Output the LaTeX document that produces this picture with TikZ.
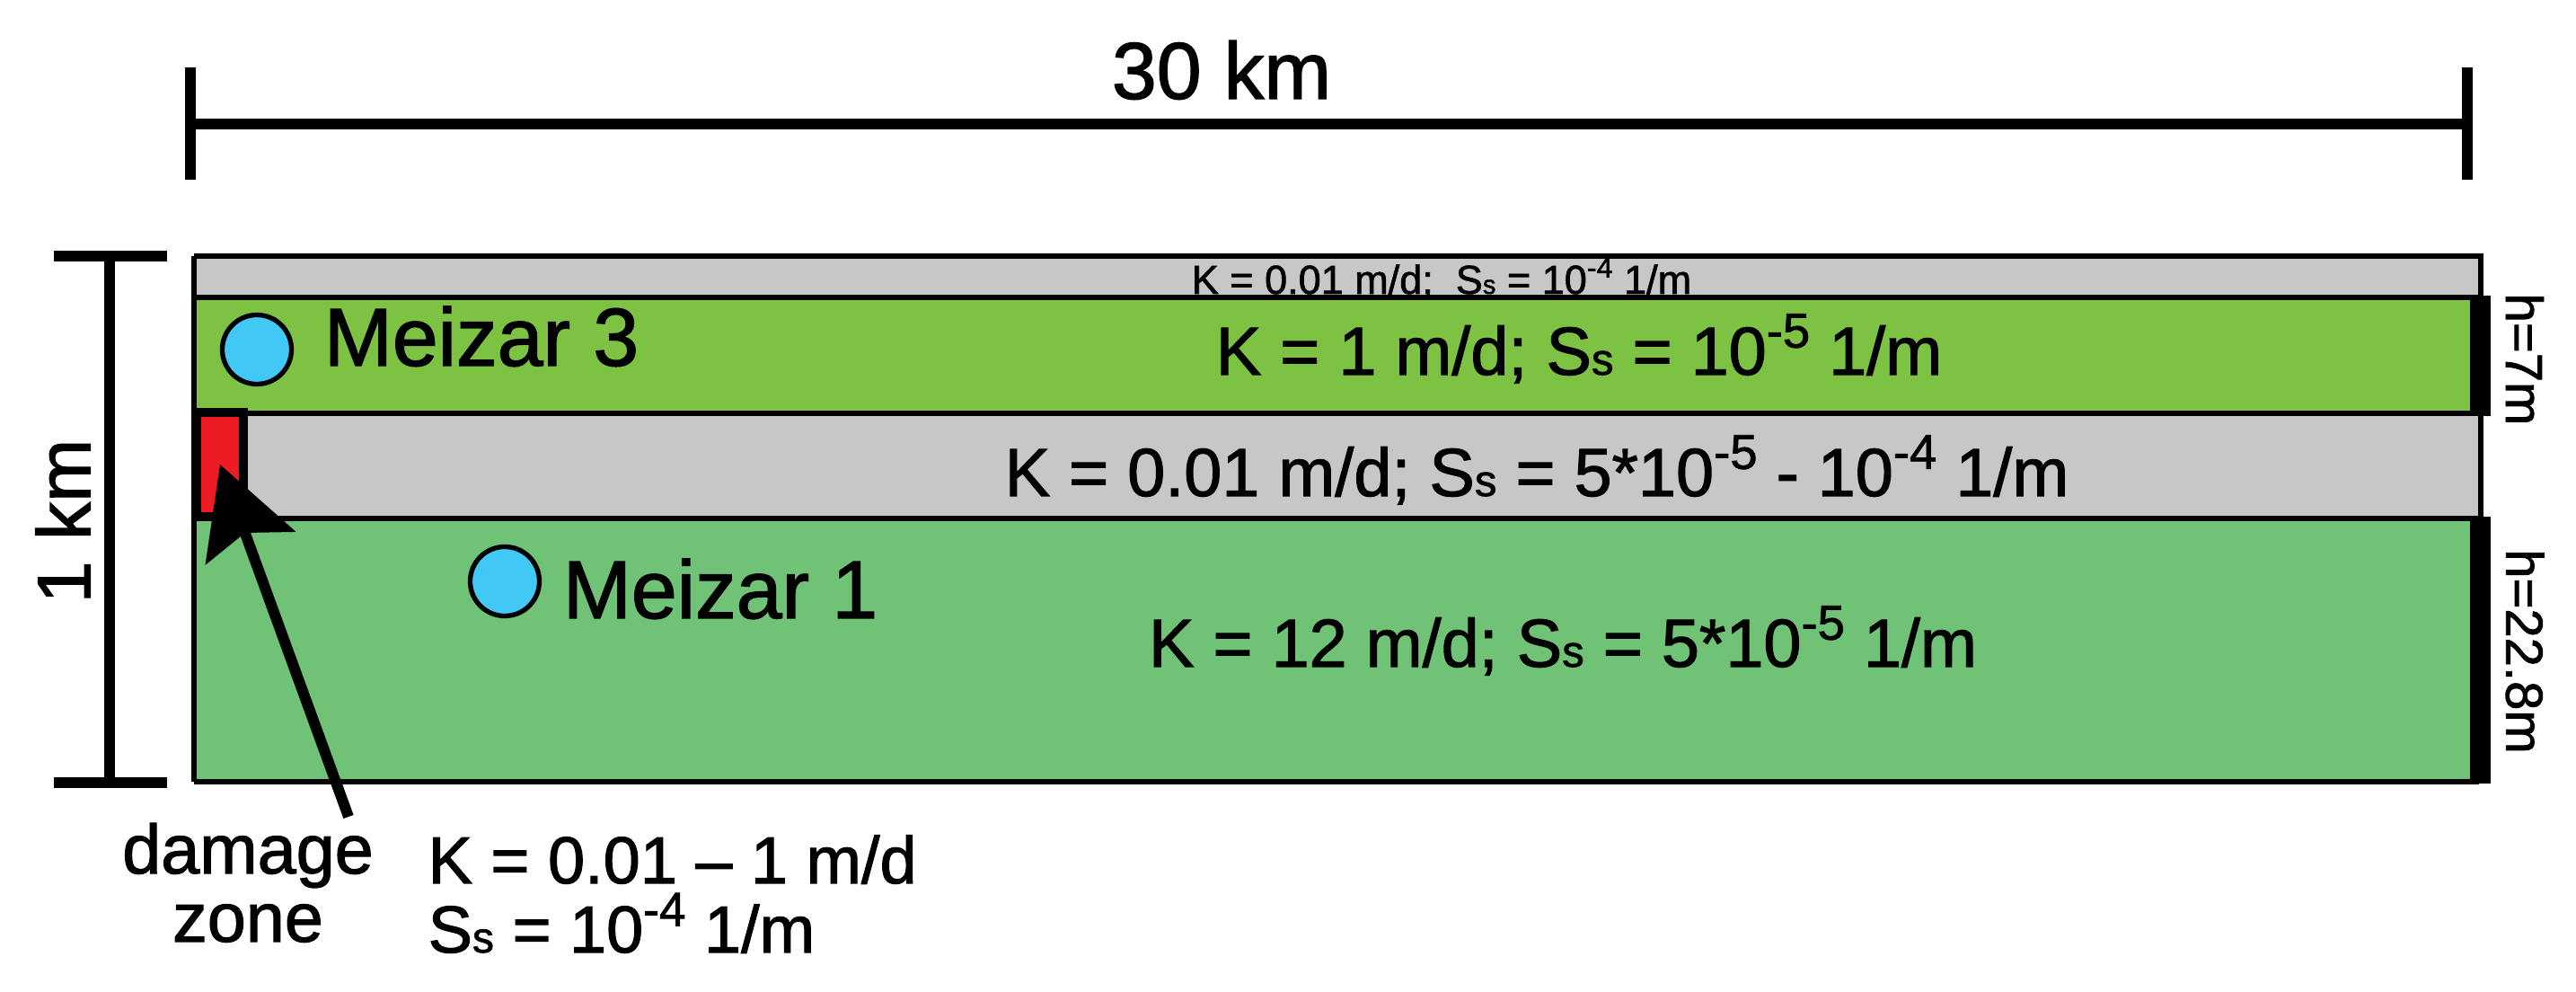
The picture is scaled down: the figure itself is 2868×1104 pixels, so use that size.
\documentclass[tikz,border=0pt]{standalone}
\usepackage{fontspec}
\setmainfont{Liberation Sans}[FakeBold=1.5]
\usepackage{graphicx}
\usetikzlibrary{arrows.meta}
\definecolor{laygray}{HTML}{C6C7C9}
\definecolor{laygreenA}{HTML}{7DC243}
\definecolor{laygreenB}{HTML}{70C276}
\definecolor{wellblue}{HTML}{42C8F4}
\definecolor{dmgred}{HTML}{ED1C24}
\newcommand{\SsX}{S\scalebox{0.65}{s}}
\newcommand{\expo}[1]{\raisebox{0.4em}{\scalebox{0.72}{#1}}}
\begin{document}
\begin{tikzpicture}[x=0.01cm,y=-0.01cm,
  border/.style={line width=1.6pt},
  dimline/.style={line width=3.4pt},
  well/.style={circle, draw, line width=1.5pt, fill=wellblue, minimum size=0.77cm, inner sep=0pt},
  laytext/.style={anchor=base, inner sep=0pt, font=\fontsize{21.5pt}{26pt}\selectfont},
  welltext/.style={anchor=base west, inner sep=0pt, font=\fontsize{26pt}{30pt}\selectfont},
  sidetext/.style={inner sep=0pt, font=\fontsize{16.5pt}{20pt}\selectfont},
  dmgbox/.style={draw, fill=dmgred, line width=2.85pt, minimum width=0.52cm, minimum height=1.16cm, inner sep=0pt},
  pointer/.style={line width=3.4pt, -{Stealth[length=28pt,width=30pt,inset=5pt]}}
]
\useasboundingbox (0,0) rectangle (2868,1104);

% layers
\fill[laygray] (216,285) rectangle (2762,331);
\fill[laygreenA] (216,331) rectangle (2750,460);
\fill[laygray] (216,460) rectangle (2762,577);
\fill[laygreenB] (216,577) rectangle (2750,870);
\draw[border] (216,285) -- (2762,285) -- (2762,331);
\draw[border] (2762,460) -- (2762,577);
\draw[border] (216,331) -- (2760,331);
\draw[border] (216,460) -- (2760,460);
\draw[border] (216,577) -- (2760,577);
\draw[border] (216,870) -- (2760,870);
\draw[border] (216,285) -- (216,870);
\fill[black] (2750,329) rectangle (2773,463);
\fill[black] (2750,575) rectangle (2773,872);

% layer texts
\node[anchor=base, inner sep=0pt, font=\fontsize{12.8pt}{15pt}\selectfont] (ttop) at (1605,327)
  {K = 0.01 m/d;\ \ \SsX{} = 10\expo{-4} 1/m};
\node[laytext] (tga) at (1758,417) {K = 1 m/d; \SsX{} = 10\expo{-5} 1/m};
\node[laytext] (tgr) at (1711,552) {K = 0.01 m/d; \SsX{} = 5*10\expo{-5} - 10\expo{-4} 1/m};
\node[laytext] (tgb) at (1740,742) {K = 12 m/d; \SsX{} = 5*10\expo{-5} 1/m};

% wells
\node[well] (w3) at (286,389) {};
\node[welltext] (w3t) at (360,407) {Meizar 3};
\node[well] (w1) at (562,647) {};
\node[welltext] (w1t) at (626,688) {Meizar 1};

% side labels
\node[sidetext, rotate=-90] (h7) at (2811,400) {h=7m};
\node[sidetext, rotate=-90] (h22) at (2811,725) {h=22.8m};

% damage zone
\node[dmgbox] (dz) at (245,517) {};
\coordinate (dztail) at (388,909);
\draw[pointer] (dztail) -- (dz.center);
\node[align=center, anchor=base, inner sep=0pt, font=\fontsize{22pt}{21.6pt}\selectfont] (dzlab) at (276,1048) {damage\\zone};
\node[align=left, anchor=base west, inner sep=0pt, font=\fontsize{21pt}{21.9pt}\selectfont] (dzprop) at (476,1060)
  {K = 0.01 – 1 m/d\\\SsX{} = 10\expo{-4} 1/m};

% scale bars
\draw[dimline] (212,75) -- (212,200);
\draw[dimline] (2747,75) -- (2747,200);
\draw[dimline] (212,138) -- (2747,138);
\node[anchor=base, inner sep=0pt, font=\fontsize{25.5pt}{30pt}\selectfont] (l30) at (1360,110) {30 km};
\draw[dimline] (122,285) -- (122,871);
\draw[dimline] (60,285) -- (186,285);
\draw[dimline] (60,871) -- (186,871);
\node[rotate=90, inner sep=0pt, font=\fontsize{24pt}{28pt}\selectfont] (l1) at (70,580) {1 km};
\end{tikzpicture}
\end{document}
